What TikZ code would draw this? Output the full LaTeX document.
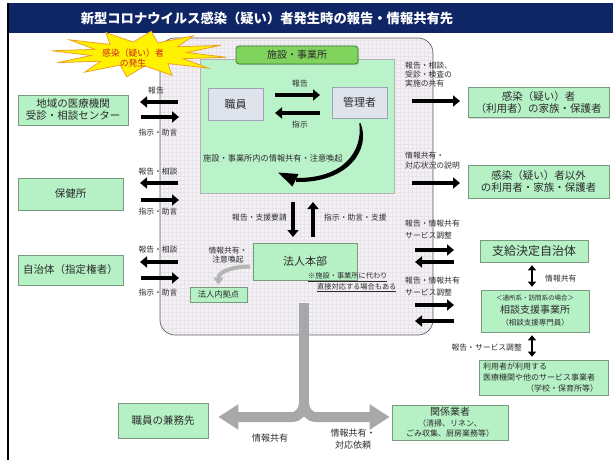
\documentclass[tikz,border=0pt]{standalone}
\usepackage{fontspec}
\setmainfont{Noto Sans CJK JP}
\usetikzlibrary{arrows.meta,shadows,calc}
\definecolor{navy}{HTML}{0E2566}
\definecolor{mint}{HTML}{B5F1C5}
\definecolor{mintd}{HTML}{7A9A80}
\definecolor{fac}{HTML}{BAF3C9}
\definecolor{labg}{HTML}{80D45E}
\definecolor{labd}{HTML}{3C7A2C}
\definecolor{pale}{HTML}{DFE3EC}
\definecolor{paled}{HTML}{9AA3B5}
\definecolor{bgp}{HTML}{F4F1F4}
\definecolor{gridc}{HTML}{E8E3EA}
\definecolor{garr}{HTML}{A8A8A8}
\definecolor{txt}{HTML}{2B2B2B}
\definecolor{starred}{HTML}{D0201A}
\definecolor{staryel}{HTML}{FFF200}
\definecolor{staror}{HTML}{F0A020}
\newcommand\fsz[2]{\fontsize{#1}{#2}\selectfont}
\newcommand\harr[4]{\coordinate (#1s) at (#2,#4); \coordinate (#1e) at (#3,#4); \draw[blk] (#1s) -- (#1e);}
\begin{document}
\begin{tikzpicture}[x=1pt,y=-1pt,
  gbox/.style={draw=mintd, fill=mint, line width=0.6pt, inner sep=0pt, align=center, text=txt,
    drop shadow={opacity=0.3, shadow xshift=1.2pt, shadow yshift=-1.2pt}},
  pbox/.style={draw=paled, fill=pale, line width=0.6pt, inner sep=0pt, align=center, text=txt,
    font=\fsz{11}{13}, drop shadow={opacity=0.3, shadow xshift=1.2pt, shadow yshift=-1.2pt}},
  lbl/.style={font=\fsz{7.8}{9.5}, text=txt, inner sep=0pt, align=center},
  blk/.style={draw=black, line width=4.5pt, -{Triangle[length=7pt,width=11pt]}},
  dbl/.style={draw=black, line width=2.5pt, {Triangle[length=5pt,width=8pt]}-{Triangle[length=5pt,width=8pt]}},
  garrow/.style={draw=garr, line width=10pt, -{Triangle[length=20pt,width=24pt]}},
  g2/.style={draw=garr!85, line width=4pt, -{Triangle[length=7pt,width=10pt]}}
]
\useasboundingbox (0,0) rectangle (613,460);
\fill[white] (0,0) rectangle (613,460);
% frame and title
\fill[navy] (8,3) rectangle (613,33);
\draw[black, line width=1.3pt] (8,3) -- (8,460);
\node[font=\bfseries\fsz{13.3}{15}, text=white, inner sep=0pt] (title) at (267,18) {新型コロナウイルス感染（疑い）者発生時の報告・情報共有先};
% big rounded region
\begin{scope}
\clip[rounded corners=15pt] (160,38) rectangle (433,335);
\fill[bgp] (160,38) rectangle (433,335);
\draw[gridc, line width=0.25pt, step=4pt] (160,38) grid (433,335);
\end{scope}
\draw[gray!75!black, line width=0.7pt, rounded corners=15pt] (160,38) rectangle (433,335);
% facility
\node[draw=gray!60, fill=fac, line width=0.6pt, minimum width=194pt, minimum height=134pt, inner sep=0pt] (fac) at (297,126) {};
\node[draw=labd, fill=labg, rounded corners=3pt, line width=0.8pt, minimum width=122pt, minimum height=18pt, inner sep=0pt, font=\fsz{10}{12}, text=txt,
  drop shadow={opacity=0.3, shadow xshift=1.2pt, shadow yshift=-1.2pt}] (lbl) at (297,55) {施設・事業所};
\node[pbox, minimum width=55pt, minimum height=32pt] (shoku) at (235.5,104) {職員};
\node[pbox, minimum width=55pt, minimum height=31pt] (kanri) at (359.5,102.5) {管理者};
\harr{f1}{275}{320}{95}
\harr{f2}{320}{275}{113}
\node[lbl] (t_f1) at (300,84) {報告};
\node[lbl] (t_f2) at (300,125) {指示};
% crescent arrow
\fill[black] (360.5,123) .. controls (371,149) and (349,183) .. (296,182) -- (296,178) .. controls (343,178.5) and (363,152) .. (359.3,123) -- cycle;
\fill[black] (278,172.5) -- (298.5,174) -- (292.5,186.5) -- cycle;
\node[lbl, anchor=west, font=\fsz{8.2}{10}] (t_in) at (203,158) {施設・事業所内の情報共有・注意喚起};
% honbu
\node[gbox, minimum width=104pt, minimum height=37pt, font=\fsz{11}{13}] (honbu) at (305,261.5) {法人本部};
\node[gbox, minimum width=57pt, minimum height=15pt, font=\fsz{8.3}{10}] (kyoten) at (218.5,294.5) {法人内拠点};
\coordinate (dn1) at (293,202); \coordinate (dn2) at (293,237);
\coordinate (up1) at (313,237); \coordinate (up2) at (313,202);
\draw[blk] (dn1) -- (dn2);
\draw[blk] (up1) -- (up2);
\node[lbl, anchor=east] (t_dn) at (287,218) {報告・支援要請};
\node[lbl, anchor=west] (t_up) at (324,218) {指示・助言・支援};
\node[lbl] (t_ky) at (228,255) {情報共有・\\注意喚起};
\coordinate (kys) at (250,266.5);
\coordinate (kye) at ($(kyoten.north)+(0,-2)$);
\draw[g2] (kys) to[out=180,in=90] (kye);
\node[lbl, anchor=west, font=\fsz{7.2}{9}] (note1) at (308,277) {\underline{※施設・事業所に代わり}};
\node[lbl, anchor=west, font=\fsz{7.2}{9}] (note2) at (317,287.5) {\underline{直接対応する場合もある}};
% left boxes
\node[gbox, minimum width=110pt, minimum height=30pt, font=\fsz{10.5}{12}] (b_med) at (73,110) {地域の医療機関\\受診・相談センター};
\node[gbox, minimum width=105pt, minimum height=32pt, font=\fsz{10.5}{12}] (b_hoken) at (70.5,194) {保健所};
\node[gbox, minimum width=105pt, minimum height=30pt, font=\fsz{10.5}{12}] (b_jichi) at (70.5,270) {自治体（指定権者）};
\harr{m1}{178}{140}{102}
\harr{m2}{141}{179}{117}
\harr{h1}{178}{140}{183}
\harr{h2}{141}{179}{200}
\harr{j1}{178}{140}{262}
\harr{j2}{141}{179}{278}
\node[lbl] (t_m1) at (156,91) {報告};
\node[lbl] (t_m2) at (158,133) {指示・助言};
\node[lbl] (t_h1) at (158,172) {報告・相談};
\node[lbl] (t_h2) at (158,212) {指示・助言};
\node[lbl] (t_j1) at (158,250) {報告・相談};
\node[lbl] (t_j2) at (158,293) {指示・助言};
% right boxes
\node[gbox, minimum width=141pt, minimum height=30pt, font=\fsz{10.5}{12}] (b_fam) at (538.5,102.5) {感染（疑い）者\\（利用者）の家族・保護者};
\node[gbox, minimum width=141pt, minimum height=33pt, font=\fsz{10.5}{12}] (b_oth) at (538.5,181.5) {感染（疑い）者以外\\の利用者・家族・保護者};
\node[gbox, minimum width=108pt, minimum height=22pt, font=\fsz{12}{14}] (b_shik) at (534,251) {支給決定自治体};
\node[gbox, minimum width=108pt, minimum height=42pt, font=\fsz{7.5}{12.5}] (b_soudan) at (535,311) {{\fsz{6.5}{9}＜通所系・訪問系の場合＞}\\{\fsz{10}{12}相談支援事業所}\\（相談支援専門員）};
\node[gbox, minimum width=129pt, minimum height=35pt, text width=121pt, align=left, font=\fsz{8}{10.8}] (b_iryo) at (543.5,377.5) {利用者が利用する\\医療機関や他のサービス事業者\\\hspace*{\fill}（学校・保育所等）\hspace*{6pt}};
\harr{r1}{412}{460}{101}
\harr{r2}{412}{460}{183}
\harr{r3}{415}{454}{250}
\harr{r4}{454}{415}{262}
\harr{r5}{415}{454}{305}
\harr{r6}{454}{415}{321}
\node[lbl, anchor=north west, align=left, font=\fsz{7.8}{9}] (t_r1) at (405,62) {報告・相談、\\受診・検査の\\実施の共有};
\node[lbl, anchor=north west, align=left, font=\fsz{7.8}{10}] (t_r2) at (405,152) {情報共有・\\対応状況の説明};
\node[lbl, anchor=north west, align=left, font=\fsz{7.8}{11.5}] (t_r3) at (405,220) {報告・情報共有\\サービス調整};
\node[lbl, anchor=north west, align=left, font=\fsz{7.8}{11.5}] (t_r5) at (405,277) {報告・情報共有\\サービス調整};
\draw[dbl] ($(b_shik.south)+(-2,3)$) -- ($(b_shik.south |- b_soudan.north)+(-2,-3)$);
\draw[dbl] ($(b_soudan.south)+(-3,3)$) -- ($(b_soudan.south |- b_iryo.north)+(-3,-3)$);
\node[lbl, anchor=west] (t_sh) at (545,279) {情報共有};
\node[lbl, anchor=east] (t_so) at (522,348) {報告・サービス調整};
% bottom
\node[gbox, minimum width=90pt, minimum height=35pt, font=\fsz{10.5}{12}] (b_kensho) at (163,420.5) {職員の兼務先};
\node[gbox, minimum width=116pt, minimum height=35pt, font=\fsz{8}{10.5}] (b_kankei) at (450,422.5) {{\fsz{10}{12}関係業者}\\（清掃、リネン、\\ごみ収集、厨房業務等）};
\coordinate (gtop) at ($(honbu.south)+(-1,23)$);
\coordinate (gmid) at (304,403);
\coordinate (gl) at ($(b_kensho.east)+(10,-3.5)$);
\coordinate (gr) at ($(b_kankei.west)+(-2,-5.5)$);
\draw[draw=garr, line width=10pt] (gtop) -- (gmid);
\draw[garrow] (gmid) to[out=-90,in=0] (292,417) -- (gl);
\draw[garrow] (gmid) to[out=-90,in=180] (316,417) -- (gr);
\node[lbl, font=\fsz{9}{11}] (t_gl) at (270,438) {情報共有};
\node[lbl, font=\fsz{9}{11.5}] (t_gr) at (353,439) {情報共有・\\対応依頼};
% starburst
\draw[fill=staryel, draw=staror, line width=0.8pt, line join=miter]
  plot[samples at={0,15,...,345}, variable=\t] ({139+(mod(\t,30)==0 ? 88 : 48)*cos(\t+8)}, {54+(mod(\t,30)==0 ? 23 : 12)*sin(\t+8)}) -- cycle;
\node[text=starred, font=\fsz{8.8}{10}, align=center, inner sep=0pt] (startxt) at (133,58) {感染（疑い）者\\の発生};
\end{tikzpicture}
\end{document}
